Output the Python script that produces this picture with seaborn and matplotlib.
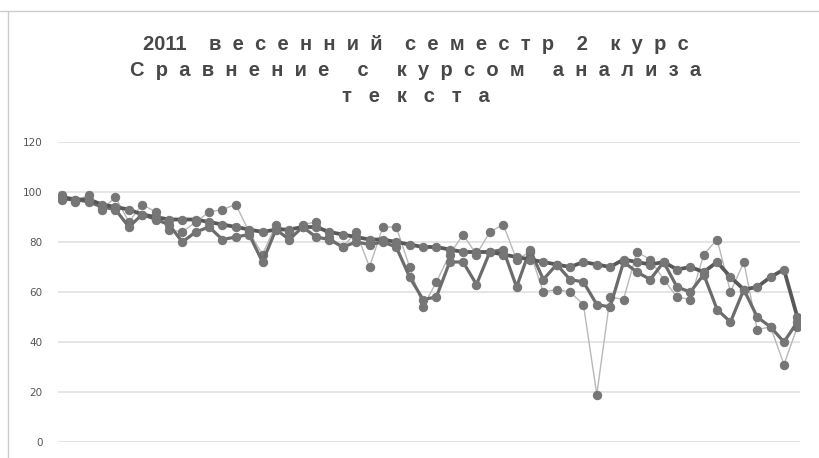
import numpy as np
import pandas as pd
import matplotlib
matplotlib.use("Agg")
import matplotlib.pyplot as plt
import seaborn as sns
from matplotlib.lines import Line2D

title_lines = ["2011    в  е  с  е  н  н  и  й    с  е  м  е  с  т  р    2    к  у  р  с",
               "С  р  а  в  н  е  н  и  е     с     к  у  р  с  о  м     а  н  а  л  и  з  а",
               "т   е   к   с   т   а"]
yticks = [0, 20, 40, 60, 80, 100, 120]

series_a = [98, 97, 97, 95, 94, 93, 91, 90, 89, 89, 89, 88, 87, 86, 85, 84, 85, 85, 86, 86,
            84, 83, 82, 81, 81, 80, 79, 78, 78, 77, 76, 76, 76, 75, 74, 73, 72, 71, 70, 72,
            71, 70, 73, 72, 71, 72, 69, 70, 68, 72, 66, 61, 62, 66, 69, 50]
series_b = [97, 97, 96, 94, 93, 86, 91, 89, 87, 80, 84, 86, 81, 82, 83, 72, 85, 81, 86, 82,
            81, 78, 80, 79, 80, 78, 66, 57, 58, 72, 72, 63, 76, 77, 62, 77, 65, 71, 65, 64,
            55, 54, 72, 68, 65, 72, 62, 60, 67, 53, 48, 61, 50, 46, 40, 48]
series_c = [99, 96, 99, 93, 98, 88, 95, 92, 85, 84, 88, 92, 93, 95, 84, 75, 87, 84, 87, 88,
            82, 78, 84, 70, 86, 86, 70, 54, 64, 75, 83, 75, 84, 87, 73, 76, 60, 61, 60, 55,
            19, 58, 57, 76, 73, 65, 58, 57, 75, 81, 60, 72, 45, 46, 31, 46]

n = len(series_a)
idx = list(range(n))
df = pd.DataFrame({
    "x": idx * 3,
    "y": series_a + series_b + series_c,
    "s": ["A"] * n + ["B"] * n + ["C"] * n,
})

sns.set_style("white")
fig = plt.figure(figsize=(8.19, 4.58), dpi=100)
ax = fig.add_axes([58 / 819, 1 - 442 / 458, (800 - 58) / 819, (442 - 142) / 458])

styles = {"C": ("#b8b8b8", 1.0), "B": ("#6c6c6c", 2.3), "A": ("#585858", 2.7)}
for key in ["C", "B", "A"]:
    col, lw = styles[key]
    sub = df[df["s"] == key]
    sns.lineplot(data=sub, x="x", y="y", ax=ax, color=col, linewidth=lw,
                 marker="o", markersize=6, markerfacecolor="#767676",
                 markeredgecolor="#767676", legend=False)

ax.set_ylim(0, 120)
ax.set_xlim(-0.3, n - 0.8)
ax.set_yticks(yticks)
ax.set_yticklabels([str(t) for t in yticks], fontsize=7.5, color="#555555")
ax.set_xticks([])
ax.set_xlabel("")
ax.set_ylabel("")
ax.yaxis.grid(True, color="#e0e0e0", linewidth=1.2)
ax.set_axisbelow(True)
for sp in ax.spines.values():
    sp.set_visible(False)
ax.tick_params(axis="y", length=0, pad=11)

ys = [1 - 45 / 458, 1 - 71 / 458, 1 - 97 / 458]
for t, yy in zip(title_lines, ys):
    fig.text(0.508, yy, t, ha="center", va="center", fontsize=14.5, color="#484848",
             family="Liberation Sans", fontweight="bold")

fig.add_artist(Line2D([0, 1], [1 - 11 / 458, 1 - 11 / 458], color="#cccccc", linewidth=1))
fig.add_artist(Line2D([8 / 819, 8 / 819], [0, 1 - 11 / 458], color="#cccccc", linewidth=1))

fig.savefig("out.png", dpi=100)
